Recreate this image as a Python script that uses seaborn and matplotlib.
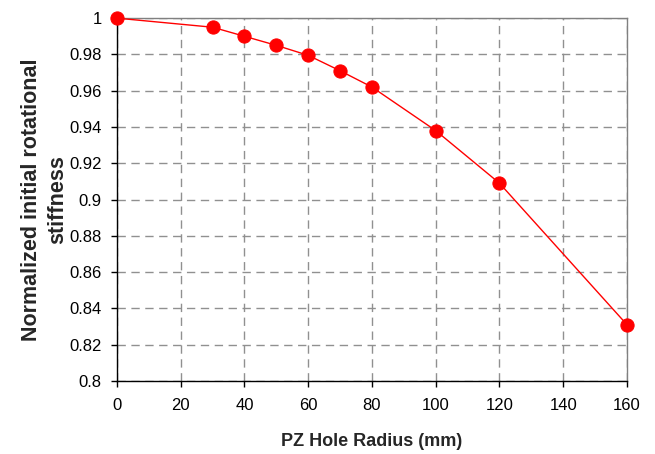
import matplotlib
matplotlib.use("Agg")
import matplotlib.pyplot as plt
import seaborn as sns
import pandas as pd

radius = [0, 30, 40, 50, 60, 70, 80, 100, 120, 160]
stiffness = [1.0, 0.995, 0.990, 0.985, 0.9795, 0.971, 0.962, 0.938, 0.909, 0.831]
x_ticks = [0, 20, 40, 60, 80, 100, 120, 140, 160]
y_ticks = [0.8, 0.82, 0.84, 0.86, 0.88, 0.9, 0.92, 0.94, 0.96, 0.98, 1.0]
y_tick_labels = ["0.8", "0.82", "0.84", "0.86", "0.88", "0.9", "0.92", "0.94", "0.96", "0.98", "1"]

sns.set_style("white")
plt.rcParams['font.family'] = ['Liberation Sans', 'DejaVu Sans']

df = pd.DataFrame({"r": radius, "k": stiffness})

fig = plt.figure(figsize=(6.55, 4.54), dpi=100)
ax = fig.add_axes([0.1786, 0.161, 0.7786, 0.799])

sns.lineplot(data=df, x="r", y="k", ax=ax, color="#ff0000", linewidth=1.0,
             marker="o", markersize=9.5, markeredgecolor="#ff0000",
             markerfacecolor="#ff0000", clip_on=False, zorder=5)

ax.set_xlim(0, 160)
ax.set_ylim(0.8, 1.0)
ax.set_xticks(x_ticks)
ax.set_yticks(y_ticks)
ax.set_yticklabels(y_tick_labels)
ax.tick_params(axis="both", labelsize=12, direction="out", length=4, width=1,
               color="black", labelcolor="black", left=True, bottom=True)
ax.tick_params(axis="x", pad=8)
ax.tick_params(axis="y", pad=7)

ax.grid(True, linestyle=(0, (6, 4)), color="#909090", linewidth=1.0)
ax.set_axisbelow(True)

ax.spines["left"].set_color("black")
ax.spines["bottom"].set_color("black")
ax.spines["top"].set_color("#808080")
ax.spines["right"].set_color("#808080")
for s in ax.spines.values():
    s.set_linewidth(1.0)

ax.set_xlabel("PZ Hole Radius (mm)", fontsize=13, fontweight="bold", labelpad=15)
ax.set_ylabel("Normalized initial rotational\nstiffness", fontsize=15.5,
              fontweight="bold", labelpad=1, linespacing=1.3)

fig.savefig("out.png", dpi=100)
